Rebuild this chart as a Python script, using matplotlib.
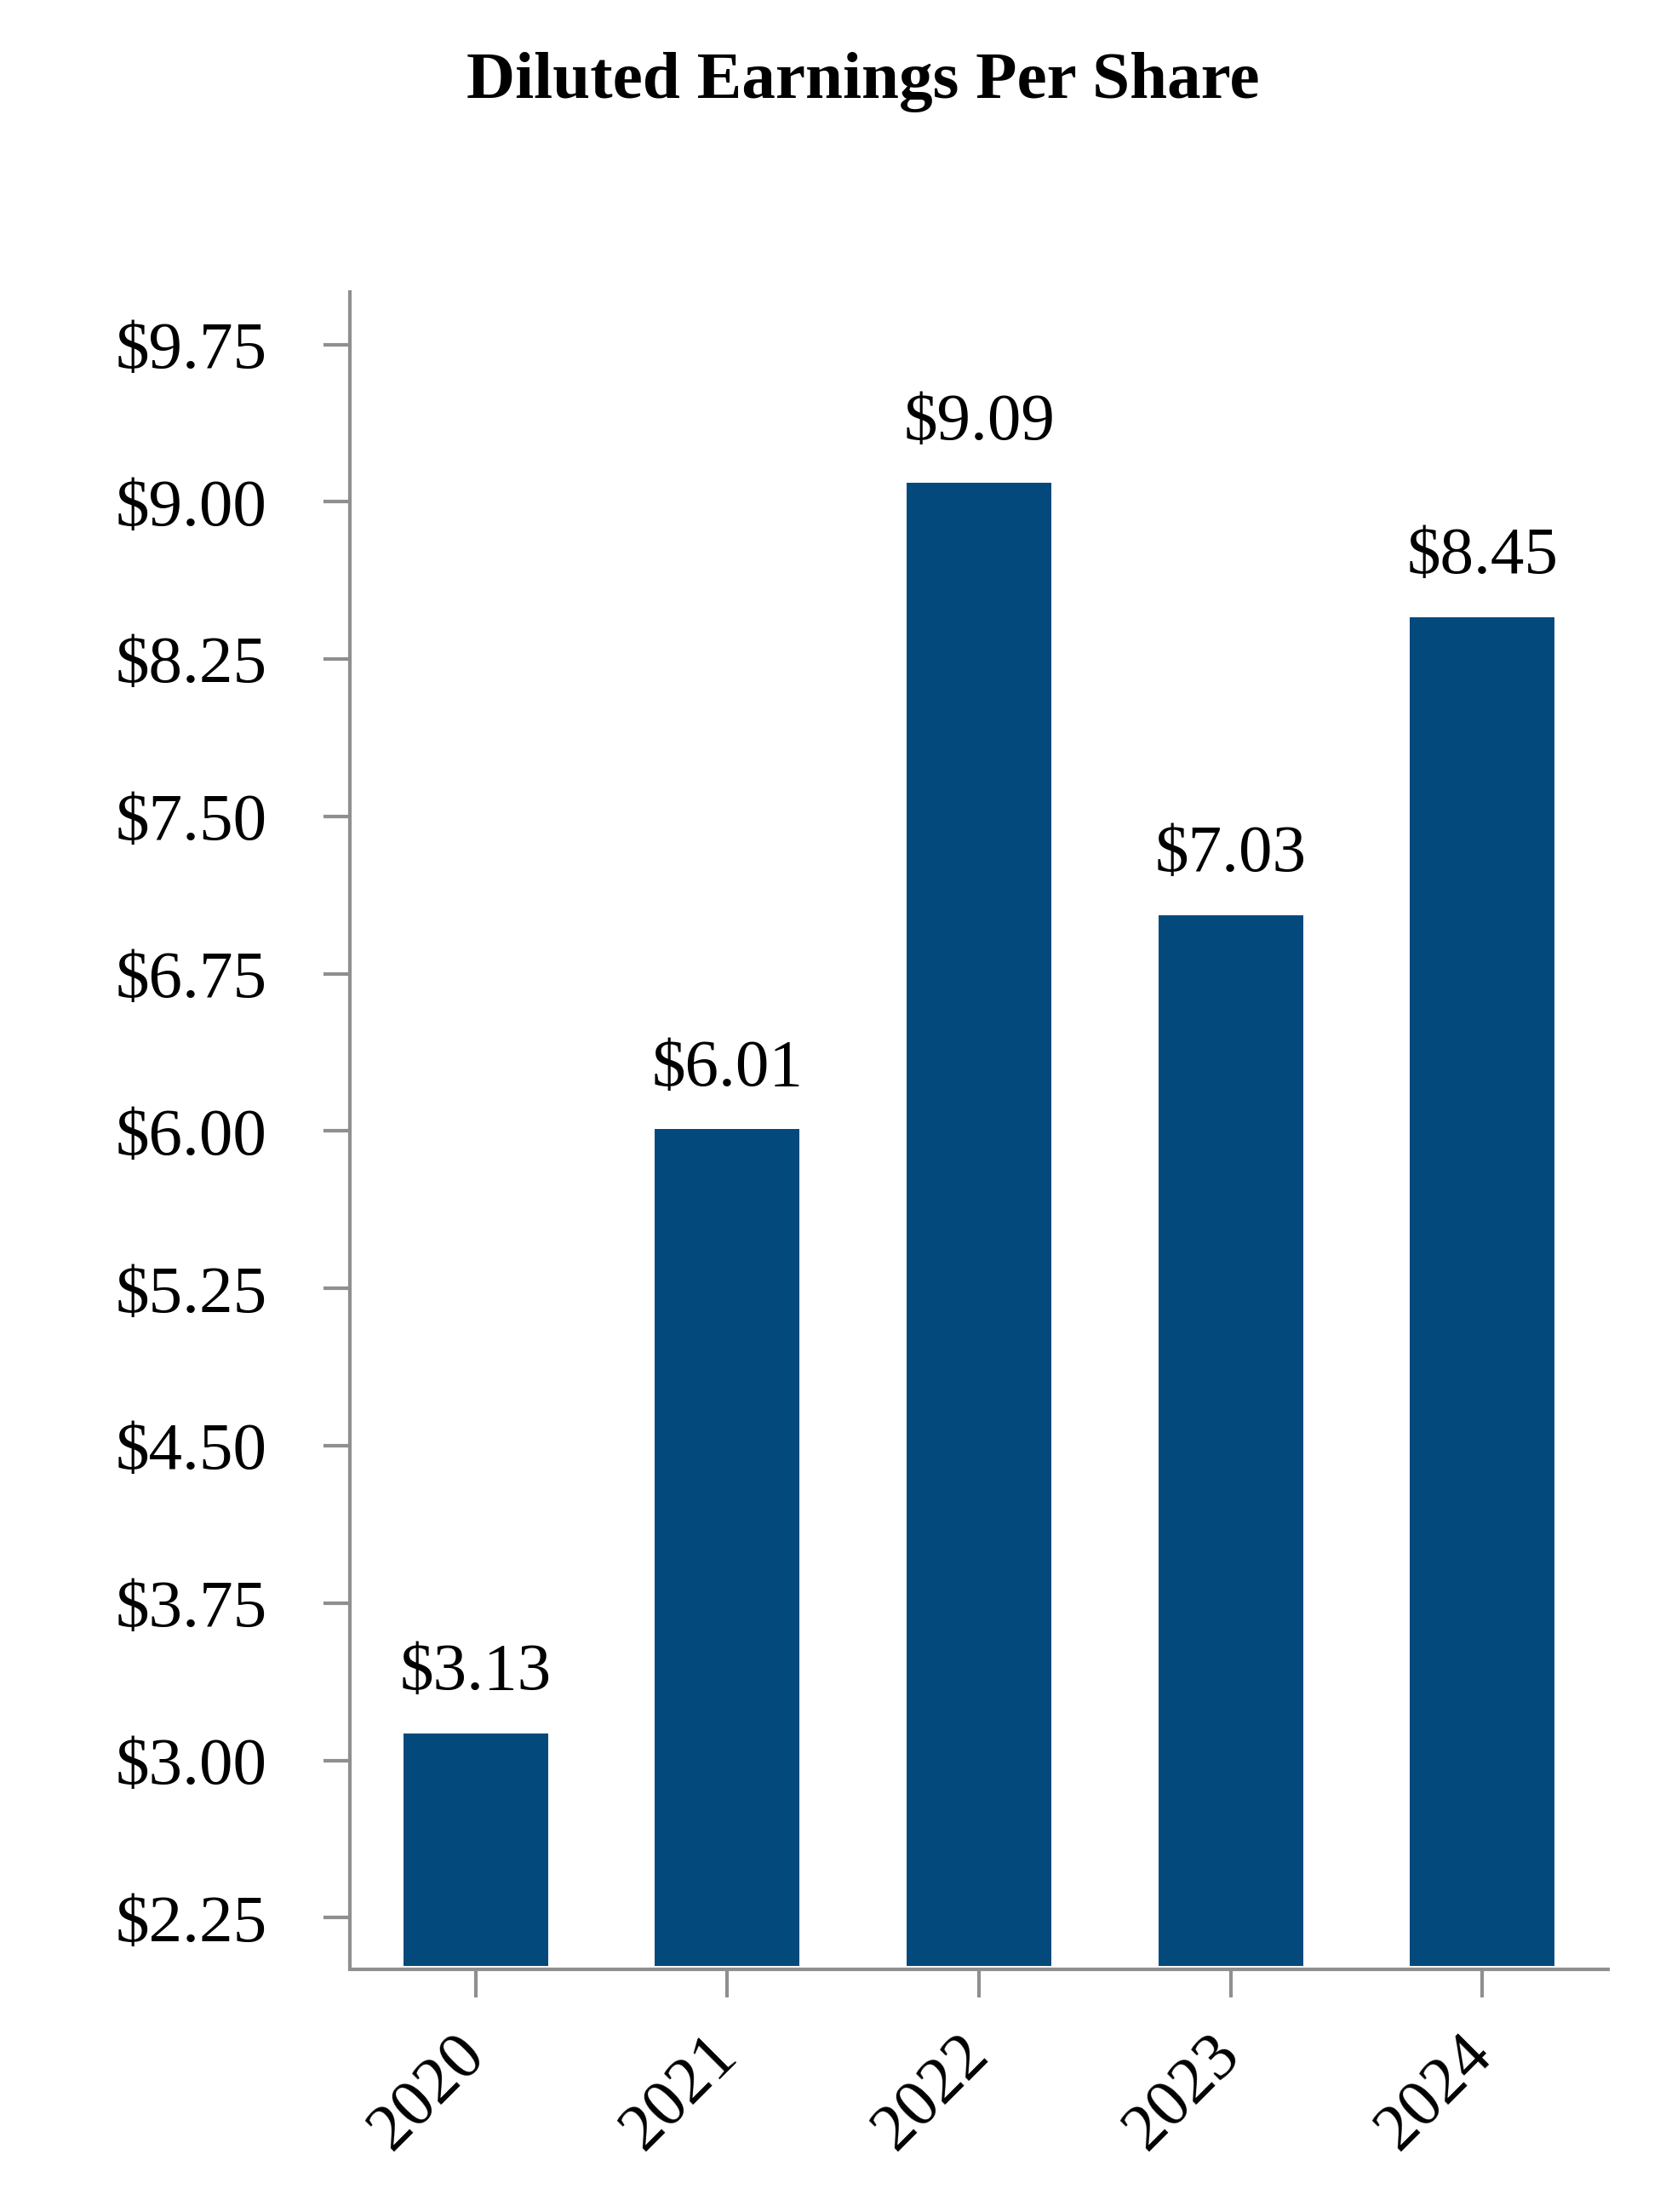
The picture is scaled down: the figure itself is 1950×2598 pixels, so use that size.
import matplotlib.pyplot as plt
import numpy as np

plt.rcParams['font.family'] = ['Liberation Serif', 'DejaVu Serif']

years = ['2020', '2021', '2022', '2023', '2024']
eps = [3.13, 6.01, 9.09, 7.03, 8.45]
yticks = [2.25, 3.00, 3.75, 4.50, 5.25, 6.00, 6.75, 7.50, 8.25, 9.00, 9.75]

bar_color = '#03497c'
axis_gray = '#8f8f8f'

fig = plt.figure(figsize=(19.5, 25.98), dpi=100)
ax = fig.add_axes([0.2108, 0.1112, 0.7579, 0.7568])

x = np.arange(len(years))
ax.bar(x, eps, width=0.575, color=bar_color, zorder=2)

for xi, v in zip(x, eps):
    ax.annotate(f'${v:.2f}', (xi, v), xytext=(0, 37), textcoords='offset points',
                ha='center', va='baseline', fontsize=57, color='black')

ax.set_xlim(-0.5, 4.5)
ax.set_ylim(2.02, 10.0)
ax.set_yticks(yticks)
ax.set_yticklabels([f'${t:.2f}' for t in yticks])
ax.set_xticks(x)
ax.set_xticklabels(years)

for s in ['top', 'right']:
    ax.spines[s].set_visible(False)
for s in ['left', 'bottom']:
    ax.spines[s].set_color(axis_gray)
    ax.spines[s].set_linewidth(3.0)
ax.spines['bottom'].set_position(('outward', 3))

ax.tick_params(axis='y', length=22, width=3.0, color=axis_gray, pad=48, labelsize=57)
ax.tick_params(axis='x', length=24, width=3.0, color=axis_gray, pad=40, labelsize=57)

# rotated year labels, right end pinned under the tick
for lbl in ax.get_xticklabels():
    lbl.set_rotation(45)
    lbl.set_ha('right')
    lbl.set_va('center')
    lbl.set_rotation_mode('anchor')

fig.text(0.52, 1 - 96 / 2598, 'Diluted Earnings Per Share', ha='center', va='center',
         fontsize=57, fontweight='bold')

fig.savefig('out.png', dpi=100)
